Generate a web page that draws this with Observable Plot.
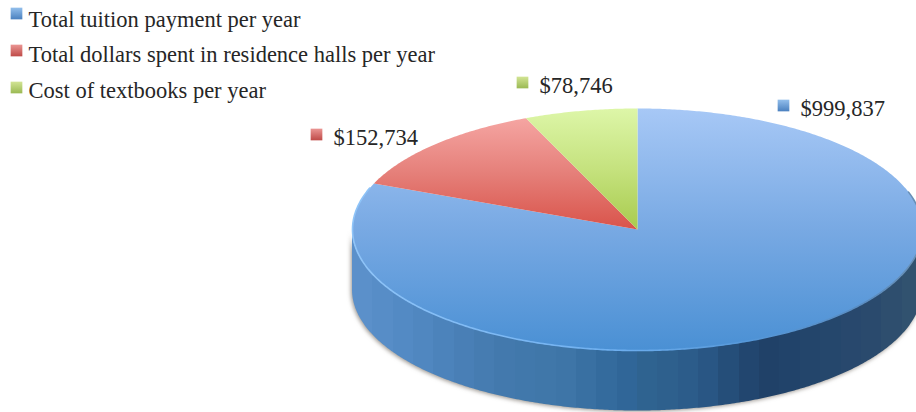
<!DOCTYPE html>
<html>
<head>
<meta charset="utf-8">
<script src="https://cdn.jsdelivr.net/npm/d3@7"></script>
<script src="https://cdn.jsdelivr.net/npm/@observablehq/plot@0.6"></script>
<style>
  html, body { margin: 0; padding: 0; background: #fff; overflow: hidden; }
</style>
</head>
<body>
<div id="chart"></div>
<script>
// Yearly spending categories and their amounts
const categories = ["Total tuition payment per year", "Total dollars spent in residence halls per year", "Cost of textbooks per year"];
const amounts = [999837, 152734, 78746];
const gradientIds = ["blue", "red", "green"];

// Top-face and swatch shading, light to dark
const faceStops = [["#a7c8f6", "#78a9e3", "#4a90d4"], ["#f5a5a2", "#e57f79", "#d9534a"], ["#ddf6a8", "#c5e27e", "#a8cb4e"]];
const swatchStops = [["#93bfec", "#4a80bf"], ["#ea9593", "#bf4a47"], ["#d2e494", "#9ab953"]];

// Shade of the outer wall, left to right across the disc
const wallOffsets = [0, .12, .26, .37, .47, .52, .61, .72, .82, .91, 1];
const wallColors = ["#5d92cb", "#5087c1", "#4379ad", "#3f76a8", "#30679a", "#2f6390", "#2b5a88", "#1f4068", "#24466c", "#2a4a6d", "#33546f"];

const wallDepth = 0.5; // in radii of the vertical axis
const total = d3.sum(amounts);
const degrees = d3.range(0, 360.01, 0.5);
const rad = (d) => (d * Math.PI) / 180;

// Angle range of each slice, clockwise from twelve o'clock
let running = 0;
const slices = amounts.map((amount, i) => {
  const start = (running / total) * 360;
  running += amount;
  return {i, start, end: (running / total) * 360};
});
const onCircle = (d) => [Math.sin(rad(d)), Math.cos(rad(d))];
const slicePoints = ({start, end}) => [
  [0, 0],
  onCircle(start),
  ...degrees.filter((d) => d > start && d < end).map(onCircle),
  onCircle(end),
  [0, 0]
];

// Shared gradients, with the wall drawn in flat vertical bands
function gradients() {
  const defs = d3.create("svg:defs");
  const add = (id, stops, horizontal) => {
    const g = defs.append("linearGradient").attr("id", id)
      .attr("x1", 0).attr("y1", 0).attr("x2", horizontal ? 1 : 0).attr("y2", horizontal ? 0 : 1);
    stops.forEach(([o, c]) => g.append("stop").attr("offset", o).attr("stop-color", c));
  };
  gradientIds.forEach((id, i) => {
    add(`face-${id}`, faceStops[i].map((c, k) => [k / 2, c]));
    add(`swatch-${id}`, swatchStops[i].map((c, k) => [k, c]));
  });
  const shade = d3.scaleLinear().domain(wallOffsets).range(wallColors);
  const bands = d3.range(0, 1, 1 / 28);
  add("wall", bands.flatMap((o, k) => [[o, shade(o + 1 / 56)], [bands[k + 1] ?? 1, shade(o + 1 / 56)]]), true);
  add("rim", [[0, "#8fc4f8"], [.45, "#6fb0f0"], [.7, "#5597d8"], [.9, "#5a8cc0"], [1, "#6a90b4"]], true);
  return defs.node();
}

const font = "'Liberation Serif', serif";
const textStyle = {
  frameAnchor: "top-left", textAnchor: "start", lineAnchor: "middle",
  fontSize: 22.5, fontFamily: font, fill: "#262626"
};
const swatchStyle = {frameAnchor: "top-left", symbol: "square", r: 6.6, stroke: "none"};
const labelMarks = [];
categories.forEach((name, i) => {
  // Legend rows
  labelMarks.push(Plot.dot([name], {...swatchStyle, dx: 16, dy: 13 + i * 37, fill: `url(#swatch-${gradientIds[i]})`}));
  labelMarks.push(Plot.text([name], {...textStyle, dx: 28, dy: 19 + i * 35.5, text: (d) => d}));
});

// Value labels beside the disc
const labelOffsets = [[783, 105], [316, 134], [522, 82]];
amounts.forEach((amount, i) => {
  const [px, py] = labelOffsets[i];
  labelMarks.push(Plot.dot([amount], {...swatchStyle, dx: px, dy: py, fill: `url(#swatch-${gradientIds[i]})`}));
  labelMarks.push(Plot.text([amount], {...textStyle, dx: px + 17, dy: py + 3, text: d3.format("$,")}));
});

const wallAngles = degrees.filter((d) => d >= 90 && d <= 270);
const rimAngles = degrees.filter((d) => d >= 72 && d <= 290);

const plot = Plot.plot({
  width: 916,
  height: 412,
  margin: 0,
  x: {domain: [-1, 1], range: [352, 922], axis: null},
  y: {domain: [-1, 1], range: [350, 108], axis: null},
  style: {background: "transparent"},
  marks: [
    gradients,
    // Outer wall with its soft shadow
    Plot.areaY(wallAngles, {
      x: (d) => Math.sin(rad(d)),
      y1: (d) => Math.cos(rad(d)),
      y2: (d) => Math.cos(rad(d)) - wallDepth,
      fill: "url(#wall)",
      imageFilter: "drop-shadow(-1px 1px 2px rgba(70,60,50,.55))"
    }),
    // Top faces
    ...slices.map((s) => Plot.line(slicePoints(s), {
      x: "0", y: "1", curve: "linear", stroke: "none",
      fill: `url(#face-${gradientIds[s.i]})`
    })),
    // Lit rim along the front of the top face
    Plot.line(rimAngles, {
      x: (d) => Math.sin(rad(d)),
      y: (d) => Math.cos(rad(d)),
      stroke: "url(#rim)", strokeWidth: 1.6
    }),
    ...labelMarks
  ]
});
document.getElementById("chart").append(plot);
</script>
</body>
</html>
